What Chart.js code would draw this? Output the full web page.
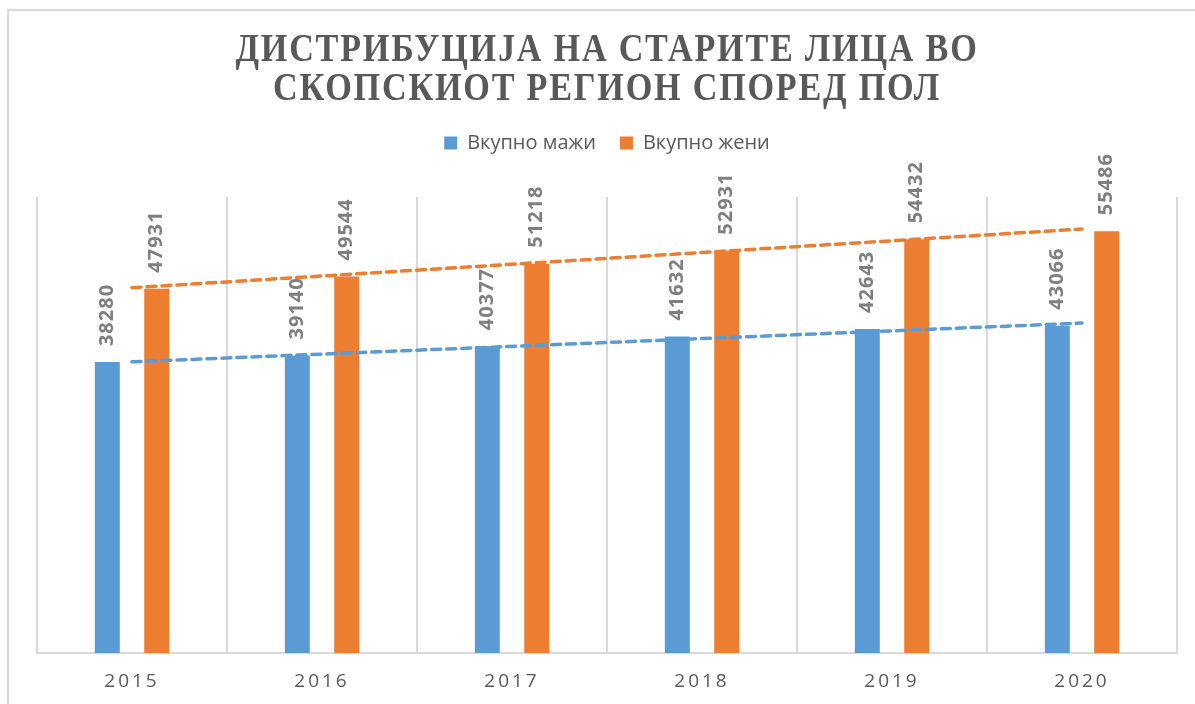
<!DOCTYPE html>
<html>
<head>
<meta charset="utf-8">
<script src="https://cdn.jsdelivr.net/npm/chart.js@4.4.1/dist/chart.umd.min.js"></script>
<style>
  body { margin: 0; background: #fff; }
</style>
</head>
<body>
<canvas id="chart" width="1195" height="704"></canvas>
<script>
// data
var years = ['2015', '2016', '2017', '2018', '2019', '2020'];
var men = [38280, 39140, 40377, 41632, 42643, 43066];
var women = [47931, 49544, 51218, 52931, 54432, 55486];
// trendline ends (first and last year)
var menTrend = [38310, 43410];
var womenTrend = [48060, 55790];

var seriesNames = ['Вкупно мажи', 'Вкупно жени'];
var titleLines = ['ДИСТРИБУЦИЈА НА СТАРИТЕ ЛИЦА ВО', 'СКОПСКИОТ РЕГИОН СПОРЕД ПОЛ'];

var blue = '#5B9BD5';
var orange = '#ED7D31';
var gray = '#595959';

// line from first to last category, gaps in between
function trendData(ends) {
    var arr = years.map(function () { return null; });
    arr[0] = ends[0];
    arr[arr.length - 1] = ends[1];
    return arr;
}

// wraps a draw method so its text gets letter spacing (and optional horizontal squeeze)
function spaced(obj, method, spacing, squeeze) {
    var orig = obj[method];
    obj[method] = function () {
        var ctx = this.ctx;
        ctx.save();
        ctx.letterSpacing = spacing;
        if (squeeze) {
            var cx = (this.left + this.right) / 2;
            ctx.translate(cx, 0);
            ctx.scale(squeeze, 1);
            ctx.translate(-cx, 0);
        }
        orig.apply(this, arguments);
        ctx.restore();
    };
}

var extras = {
    id: 'extras',
    beforeDraw: function (chart) {
        if (!chart._spaced) {
            spaced(chart.titleBlock, 'draw', '2px', 0.877);
            spaced(chart.scales.x, 'drawLabels', '3px');
            chart._spaced = true;
        }
        // outer chart frame
        const ctx = chart.ctx;
        ctx.save();
        ctx.strokeStyle = '#d9d9d9';
        ctx.lineWidth = 2;
        ctx.beginPath();
        ctx.moveTo(8, 720);
        ctx.lineTo(8, 10);
        ctx.lineTo(1210, 10);
        ctx.stroke();
        ctx.restore();
    },
    afterDatasetsDraw: function (chart) {
        const ctx = chart.ctx;
        ctx.save();
        ctx.font = 'bold 20px "Open Sans"';
        ctx.fillStyle = '#7f7f7f';
        ctx.letterSpacing = '1px';
        ctx.textAlign = 'left';
        ctx.textBaseline = 'middle';
        [0, 1].forEach(function (di) {
            const meta = chart.getDatasetMeta(di);
            meta.data.forEach(function (bar, i) {
                ctx.save();
                ctx.translate(bar.x, bar.y - 16);
                ctx.rotate(-Math.PI / 2);
                ctx.fillText(String(chart.data.datasets[di].data[i]), 0, 0);
                ctx.restore();
            });
        });
        ctx.restore();
    }
};

const ctx = document.getElementById('chart').getContext('2d');
new Chart(ctx, {
    type: 'bar',
    data: {
        labels: years,
        datasets: [{
            label: seriesNames[0],
            data: men,
            backgroundColor: blue,
            categoryPercentage: 0.52,
            barPercentage: 0.505
        }, {
            label: seriesNames[1],
            data: women,
            backgroundColor: orange,
            categoryPercentage: 0.52,
            barPercentage: 0.505
        }, {
            type: 'line',
            label: 'trend men',
            data: trendData(menTrend),
            borderColor: blue,
            borderWidth: 3.5,
            borderDash: [9, 6],
            borderCapStyle: 'round',
            pointRadius: 0,
            spanGaps: true,
            order: -1
        }, {
            type: 'line',
            label: 'trend women',
            data: trendData(womenTrend),
            borderColor: orange,
            borderWidth: 3.5,
            borderDash: [9, 6],
            borderCapStyle: 'round',
            pointRadius: 0,
            spanGaps: true,
            order: -1
        }]
    },
    options: {
        responsive: false,
        animation: false,
        layout: {
            padding: { left: 37, right: 18, top: 0, bottom: 0 }
        },
        plugins: {
            tooltip: { enabled: false },
            title: {
                display: true,
                text: titleLines,
                color: gray,
                font: { family: '"Liberation Serif", "Times New Roman", serif', size: 39, weight: 'bold', lineHeight: 1.0 },
                padding: { top: 31, bottom: 0 }
            },
            legend: {
                display: true,
                position: 'top',
                labels: {
                    boxWidth: 13,
                    boxHeight: 13,
                    padding: 24,
                    color: gray,
                    font: { family: '"Open Sans"', size: 20 },
                    filter: function (item) { return item.datasetIndex < 2; }
                }
            }
        },
        scales: {
            x: {
                offset: true,
                grid: {
                    display: true,
                    offset: true,
                    color: '#d9d9d9',
                    lineWidth: 2,
                    drawTicks: false
                },
                border: { display: true, color: '#d9d9d9', width: 2 },
                ticks: {
                    color: gray,
                    padding: 17,
                    font: { family: '"Open Sans"', size: 19 }
                },
                afterFit: function (scale) { scale.height = 51; }
            },
            spacer: {
                type: 'category',
                position: 'top',
                labels: years,
                grid: { display: false },
                border: { display: false },
                ticks: { display: false },
                afterFit: function (scale) { scale.height = 34; }
            },
            y: {
                display: false,
                min: 0,
                max: 60000
            }
        }
    },
    plugins: [extras]
});
</script>
</body>
</html>
